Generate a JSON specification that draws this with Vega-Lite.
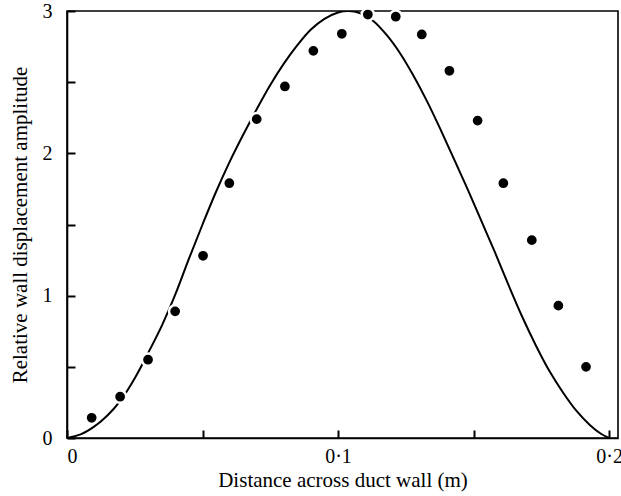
{
  "$schema": "https://vega.github.io/schema/vega-lite/v6.json",
  "width": 551,
  "height": 427,
  "autosize": {"type": "none"},
  "padding": {"left": 67, "top": 11, "right": 3, "bottom": 58},
  "background": "white",
  "config": {
    "font": "Liberation Serif",
    "view": {"stroke": "black", "strokeWidth": 1.6},
    "axis": {
      "grid": false,
      "domainColor": "black",
      "domainWidth": 1.6,
      "ticks": true,
      "tickColor": "black",
      "tickWidth": 2,
      "tickSize": -8,
      "labelFont": "Liberation Serif",
      "labelFontSize": 20,
      "labelColor": "black",
      "titleFont": "Liberation Serif",
      "titleFontSize": 21,
      "titleFontWeight": "normal",
      "titleColor": "black"
    }
  },
  "datasets": {
    "curve": [
      {"x": 0, "y": 0},
      {"x": 0.005, "y": 0.025},
      {"x": 0.01, "y": 0.08},
      {"x": 0.015, "y": 0.16},
      {"x": 0.02, "y": 0.27},
      {"x": 0.025, "y": 0.42},
      {"x": 0.03, "y": 0.6},
      {"x": 0.035, "y": 0.79},
      {"x": 0.04, "y": 1.01},
      {"x": 0.045, "y": 1.26},
      {"x": 0.05, "y": 1.5},
      {"x": 0.055, "y": 1.73},
      {"x": 0.06, "y": 1.94},
      {"x": 0.065, "y": 2.13},
      {"x": 0.07, "y": 2.31},
      {"x": 0.075, "y": 2.48},
      {"x": 0.08, "y": 2.63},
      {"x": 0.085, "y": 2.76},
      {"x": 0.09, "y": 2.87},
      {"x": 0.095, "y": 2.945},
      {"x": 0.1, "y": 2.99},
      {"x": 0.104, "y": 3.0},
      {"x": 0.108, "y": 2.985},
      {"x": 0.113, "y": 2.93},
      {"x": 0.118, "y": 2.83},
      {"x": 0.123, "y": 2.7},
      {"x": 0.128, "y": 2.54},
      {"x": 0.133, "y": 2.36},
      {"x": 0.138, "y": 2.16},
      {"x": 0.143, "y": 1.95},
      {"x": 0.148, "y": 1.74},
      {"x": 0.153, "y": 1.52},
      {"x": 0.158, "y": 1.3},
      {"x": 0.163, "y": 1.07},
      {"x": 0.168, "y": 0.85},
      {"x": 0.173, "y": 0.65},
      {"x": 0.178, "y": 0.47},
      {"x": 0.183, "y": 0.32},
      {"x": 0.188, "y": 0.19},
      {"x": 0.193, "y": 0.09},
      {"x": 0.197, "y": 0.03},
      {"x": 0.2, "y": 0}
    ],
    "points": [
      {"x": 0.0091, "y": 0.142},
      {"x": 0.0196, "y": 0.29},
      {"x": 0.0299, "y": 0.55},
      {"x": 0.0399, "y": 0.89},
      {"x": 0.0502, "y": 1.28},
      {"x": 0.0599, "y": 1.79},
      {"x": 0.0700, "y": 2.24},
      {"x": 0.0804, "y": 2.47},
      {"x": 0.0909, "y": 2.72},
      {"x": 0.1014, "y": 2.84},
      {"x": 0.1110, "y": 2.975},
      {"x": 0.1213, "y": 2.96},
      {"x": 0.1309, "y": 2.835},
      {"x": 0.1411, "y": 2.58},
      {"x": 0.1515, "y": 2.23},
      {"x": 0.1610, "y": 1.79},
      {"x": 0.1715, "y": 1.39},
      {"x": 0.1813, "y": 0.93},
      {"x": 0.1915, "y": 0.50}
    ]
  },
  "layer": [
    {
      "data": {"name": "curve"},
      "mark": {"type": "line", "color": "black", "strokeWidth": 2, "interpolate": "catmull-rom", "clip": true},
      "encoding": {
        "x": {
          "field": "x", "type": "quantitative",
          "scale": {"domain": [0, 0.2033], "nice": false, "zero": false},
          "axis": {
            "values": [0, 0.05, 0.1, 0.15, 0.2],
            "labelExpr": "datum.value == 0 ? '0' : (datum.value == 0.1 ? '0·1' : (datum.value == 0.2 ? '0·2' : ''))",
            "labelPadding": 16,
            "title": "Distance across duct wall (m)",
            "titlePadding": 3
          }
        },
        "y": {
          "field": "y", "type": "quantitative",
          "scale": {"domain": [0, 3], "nice": false},
          "axis": {
            "values": [0, 0.5, 1, 1.5, 2, 2.5, 3],
            "labelExpr": "datum.value % 1 == 0 ? format(datum.value, 'd') : ''",
            "labelPadding": 23,
            "title": "Relative wall displacement amplitude",
            "titlePadding": 12
          }
        }
      }
    },
    {
      "data": {"name": "points"},
      "mark": {"type": "point", "shape": "circle", "filled": true, "fill": "black", "stroke": "white", "strokeWidth": 2.5, "strokeOpacity": 1, "size": 150, "opacity": 1},
      "encoding": {
        "x": {"field": "x", "type": "quantitative"},
        "y": {"field": "y", "type": "quantitative"}
      }
    }
  ]
}
